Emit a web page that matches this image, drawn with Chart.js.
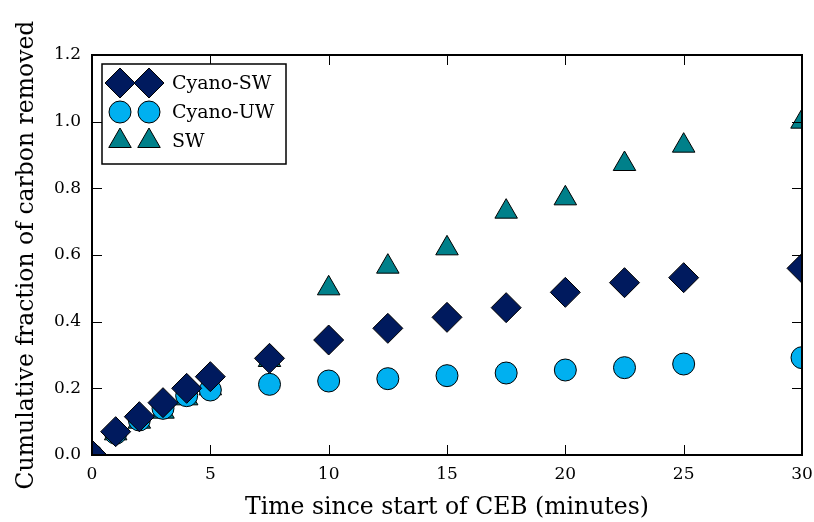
<!DOCTYPE html>
<html lang="en">
<head>
    <meta charset="UTF-8">
    <title>Cumulative carbon removal</title>
    <script src="https://cdn.jsdelivr.net/npm/chart.js"></script>
    <style>
        html, body {
            margin: 0;
            padding: 0;
            background: #ffffff;
        }
        .chart-box {
            width: 814px;
            height: 522px;
        }
    </style>
</head>
<body>
    <div class="chart-box">
        <canvas id="removalChart" width="814" height="522"></canvas>
    </div>

    <script>
        // time points (minutes)
        const times = [0, 1, 2, 3, 4, 5, 7.5, 10, 12.5, 15, 17.5, 20, 22.5, 25, 30];

        // cumulative fraction of carbon removed
        const cyanoSW = [0, 0.07, 0.115, 0.157, 0.2, 0.235, 0.29, 0.345, 0.38, 0.413, 0.442, 0.488, 0.517, 0.532, 0.56];
        const cyanoUW = [0, 0.065, 0.105, 0.14, 0.178, 0.195, 0.212, 0.222, 0.229, 0.238, 0.246, 0.255, 0.262, 0.273, 0.292];
        const sw = [0, 0.065, 0.1, 0.13, 0.17, 0.2, 0.285, 0.5, 0.565, 0.62, 0.73, 0.77, 0.873, 0.928, 1.0];

        const seriesNames = ['Cyano-SW', 'Cyano-UW', 'SW'];
        const xTicks = [0, 5, 10, 15, 20, 25, 30];
        const yTicks = [0, 0.2, 0.4, 0.6, 0.8, 1.0, 1.2];

        const serif = '"DejaVu Serif", serif';

        function toPoints(values) {
            return values.map((v, i) => ({ x: times[i], y: v }));
        }

        // frame on all four sides + inward ticks, like the matplotlib classic style
        const frameTicks = {
            id: 'frameTicks',
            afterDatasetsDraw(chart) {
                const { ctx, chartArea: a, scales } = chart;
                const len = 10;
                ctx.save();
                ctx.strokeStyle = '#000';
                ctx.lineWidth = 1;
                ctx.beginPath();
                xTicks.forEach(t => {
                    const px = Math.round(scales.x.getPixelForValue(t)) + 0.5;
                    ctx.moveTo(px, a.bottom); ctx.lineTo(px, a.bottom - len);
                    ctx.moveTo(px, a.top); ctx.lineTo(px, a.top + len);
                });
                yTicks.forEach(t => {
                    const py = Math.round(scales.y.getPixelForValue(t)) + 0.5;
                    ctx.moveTo(a.left, py); ctx.lineTo(a.left + len, py);
                    ctx.moveTo(a.right, py); ctx.lineTo(a.right - len, py);
                });
                ctx.stroke();
                ctx.lineWidth = 2;
                ctx.strokeRect(a.left, a.top, a.right - a.left, a.bottom - a.top);
                ctx.restore();
            }
        };

        // legend with two markers per entry
        const pairLegend = {
            id: 'pairLegend',
            afterDraw(chart) {
                const { ctx, chartArea: a } = chart;
                const box = { x: a.left + 10, y: a.top + 9, w: 184, h: 100 };
                ctx.save();
                ctx.fillStyle = '#fff';
                ctx.fillRect(box.x, box.y, box.w, box.h);
                ctx.strokeStyle = '#000';
                ctx.lineWidth = 1.5;
                ctx.strokeRect(box.x, box.y, box.w, box.h);
                chart.data.datasets.forEach((ds, i) => {
                    const cy = box.y + 19 + i * 29;
                    [box.x + 18, box.x + 47].forEach(cx => {
                        ctx.fillStyle = ds.pointBackgroundColor;
                        ctx.strokeStyle = '#000';
                        ctx.lineWidth = 1;
                        Chart.helpers.drawPoint(ctx, {
                            pointStyle: ds.pointStyle,
                            radius: ds.pointRadius,
                            borderWidth: 1,
                            rotation: 0
                        }, cx, cy);
                    });
                    ctx.fillStyle = '#000';
                    ctx.font = '19px ' + serif;
                    ctx.textBaseline = 'middle';
                    ctx.fillText(seriesNames[i], box.x + 70, cy + 1);
                });
                ctx.restore();
            }
        };

        const ctx = document.getElementById('removalChart').getContext('2d');
        const removalChart = new Chart(ctx, {
            type: 'scatter',
            data: {
                datasets: [
                    {
                        label: seriesNames[0],
                        data: toPoints(cyanoSW),
                        pointStyle: 'rectRot',
                        pointRadius: 15,
                        pointBackgroundColor: '#001a5e',
                        pointBorderColor: '#000',
                        pointBorderWidth: 1,
                        order: 1
                    },
                    {
                        label: seriesNames[1],
                        data: toPoints(cyanoUW),
                        pointStyle: 'circle',
                        pointRadius: 11,
                        pointBackgroundColor: '#00b0f0',
                        pointBorderColor: '#000',
                        pointBorderWidth: 1,
                        order: 2
                    },
                    {
                        label: seriesNames[2],
                        data: toPoints(sw),
                        pointStyle: 'triangle',
                        pointRadius: 13,
                        pointBackgroundColor: '#00808a',
                        pointBorderColor: '#000',
                        pointBorderWidth: 1,
                        order: 3
                    }
                ]
            },
            options: {
                responsive: false,
                animation: false,
                clip: 0,
                layout: { autoPadding: false, padding: { left: 0, right: 12, top: 55, bottom: 0 } },
                plugins: {
                    legend: { display: false },
                    tooltip: { enabled: false }
                },
                scales: {
                    x: {
                        type: 'linear',
                        min: 0,
                        max: 30,
                        afterFit(scale) {
                            scale.height = 67;
                            scale.paddingLeft = 0;
                            scale.paddingRight = 0;
                        },
                        afterBuildTicks(scale) { scale.ticks = xTicks.map(v => ({ value: v })); },
                        grid: { display: false, drawTicks: false },
                        border: { display: false },
                        ticks: {
                            padding: 9,
                            color: '#000',
                            font: { family: serif, size: 17 },
                            maxRotation: 0
                        },
                        title: {
                            display: true,
                            text: 'Time since start of CEB (minutes)',
                            color: '#000',
                            font: { family: serif, size: 23.5 },
                            padding: { top: 4, bottom: 0 }
                        }
                    },
                    y: {
                        type: 'linear',
                        min: 0,
                        max: 1.2,
                        afterFit(scale) { scale.width = 92; },
                        afterBuildTicks(scale) { scale.ticks = yTicks.map(v => ({ value: v })); },
                        grid: { display: false, drawTicks: false },
                        border: { display: false },
                        ticks: {
                            padding: 11,
                            color: '#000',
                            font: { family: serif, size: 17 },
                            callback: v => v.toFixed(1)
                        },
                        title: {
                            display: true,
                            text: 'Cumulative fraction of carbon removed',
                            color: '#000',
                            font: { family: serif, size: 23.5 },
                            padding: { top: 13, bottom: 8 }
                        }
                    }
                }
            },
            plugins: [frameTicks, pairLegend]
        });
    </script>
</body>
</html>
